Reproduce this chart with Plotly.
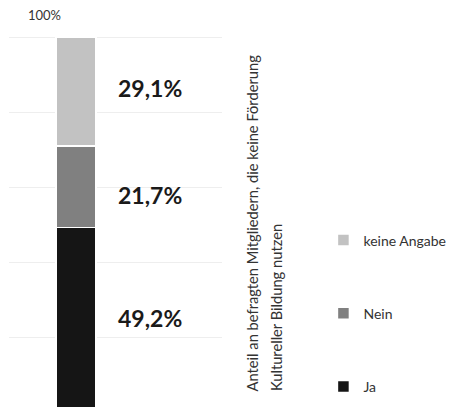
import plotly.graph_objects as go

categories = ["Ja", "Nein", "keine Angabe"]
values = [49.2, 21.7, 29.1]
colors = ["#151515", "#808080", "#c2c2c2"]
value_labels = ["49,2%", "21,7%", "29,1%"]
top_label = "100%"
side_title_lines = ["Anteil an befragten Mitgliedern, die keine Förderung",
                    "Kultureller Bildung nutzen"]
label_shifts = [2, -8, 4]

fig = go.Figure()
for i, (cat, val, col) in enumerate(zip(categories, values, colors)):
    fig.add_trace(go.Bar(
        x=[0], y=[val], name=cat, width=1,
        marker=dict(color=col, line=dict(color="#ffffff", width=1.5)),
        legendgroup=cat, legendrank=len(categories) - i, hoverinfo="skip",
    ))

base = 0
for val, lab, sh in zip(values, value_labels, label_shifts):
    fig.add_annotation(x=1.85, y=base + val / 2, xref="x", yref="y", text=lab,
                       showarrow=False, yshift=sh,
                       font=dict(family="Lato", size=23, color="#1a1a1a", weight="bold"))
    base += val

fig.add_annotation(x=-0.8, y=100, xref="x", yref="y", text=top_label, showarrow=False,
                   yshift=22, font=dict(family="Lato", size=13, color="#333333"))
for xp, line in zip([0.551, 0.607], side_title_lines):
    fig.add_annotation(x=xp, y=0.038, xref="paper", yref="paper", text=line,
                       textangle=-90, showarrow=False, align="left",
                       xanchor="center", yanchor="bottom",
                       font=dict(family="Lato", size=14.7, color="#333333"))

fig.update_layout(
    width=450, height=407, barmode="stack",
    margin=dict(l=9, r=0, t=36, b=0, autoexpand=False),
    paper_bgcolor="white", plot_bgcolor="white",
    xaxis=dict(domain=[0, 0.483], range=[-1.675, 3.65], showticklabels=False,
               showgrid=False, zeroline=False, fixedrange=True),
    yaxis=dict(range=[1.33, 100.3], tickvals=[20, 40, 60, 80, 100], showticklabels=False,
               showgrid=True, gridcolor="#eeeeee", gridwidth=1, zeroline=False),
    legend=dict(x=0.713, y=0.492, xanchor="left", yanchor="top", traceorder="grouped",
                tracegroupgap=52, font=dict(family="Lato", size=14, color="#333333"),
                bgcolor="rgba(0,0,0,0)"),
    showlegend=True,
)

fig.write_html("out.html")
